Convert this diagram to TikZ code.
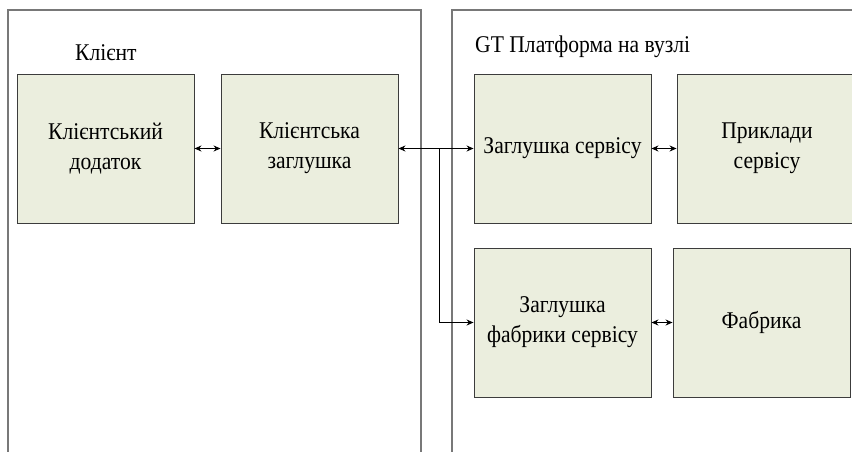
\documentclass[tikz,border=0pt]{standalone}
\usepackage{fontspec}
\setmainfont[FakeStretch=0.9]{Liberation Serif}
\usetikzlibrary{arrows.meta}
\definecolor{boxfill}{RGB}{235,238,222}
\definecolor{boxline}{RGB}{60,60,60}
\definecolor{panelline}{RGB}{120,120,120}
\tikzset{
  panel/.style={draw=panelline, line width=1.2pt},
  block/.style={draw=boxline, fill=boxfill, line width=0.9pt, align=center,
    inner sep=0pt, font=\fontsize{24}{30}\selectfont},
  tip/.tip={Stealth[length=7pt,width=6pt]},
  link/.style={line width=1pt, tip-tip},
  feed/.style={line width=1pt, -tip},
  title/.style={font=\fontsize{24}{28}\selectfont, inner sep=0pt, anchor=west}
}
\begin{document}
\begin{tikzpicture}[x=1pt,y=-1pt]
  \clip (0,0) rectangle (852,452);
  \fill[white] (0,0) rectangle (852,452);

  % the two containers
  \draw[panel] (8,470) -- (8,10) -- (421,10) -- (421,470);
  \draw[panel] (452,470) -- (452,10) -- (900,10);

  \node[title] (client) at (75,53) {Клієнт};
  \node[title] (platform) at (475,47) {GT Платформа на вузлі};

  % blocks
  \node[block, minimum width=177pt, minimum height=149pt] (app) at (105.5,148.5) {Клієнтський\\додаток};
  \node[block, minimum width=177pt, minimum height=149pt] (cstub) at (309.5,148.5) {Клієнтська\\заглушка};
  \node[block, minimum width=177pt, minimum height=149pt] (sstub) at (562.5,148.5) {Заглушка сервісу};
  \node[block, minimum width=180pt, minimum height=149pt] (inst) at (767,148.5) {Приклади\\сервісу};
  \node[block, minimum width=177pt, minimum height=149pt] (fstub) at (562.5,322.5) {Заглушка\\фабрики сервісу};
  \node[block, minimum width=177pt, minimum height=149pt] (fact) at (761.5,322.5) {Фабрика};

  % connectors
  \coordinate (split) at (439,148.5);
  \draw[link] (app.east) -- (cstub.west);
  \draw[link] (cstub.east) -- (sstub.west);
  \draw[feed] (split) |- (fstub.west);
  \draw[link] (sstub.east) -- (inst.west);
  \draw[link] (fstub.east) -- (fact.west);
\end{tikzpicture}
\end{document}
